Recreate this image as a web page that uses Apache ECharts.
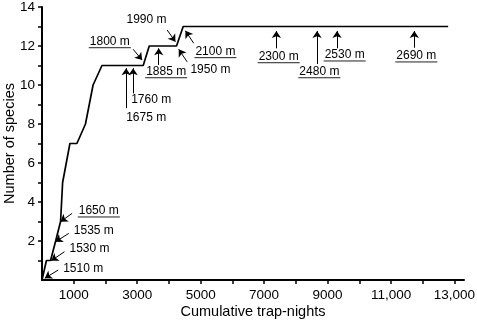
<!DOCTYPE html>
<html>
<head>
<meta charset="utf-8">
<script src="https://cdn.jsdelivr.net/npm/echarts@6/dist/echarts.min.js"></script>
<style>
html, body { margin: 0; padding: 0; background: #fff; }
#chart { width: 477px; height: 325px; }
</style>
</head>
<body>
<div id="chart"></div>
<script>
// species accumulation curve
var trapNights = [0, 140, 270, 430, 585, 650, 880, 1100, 1370, 1610, 1890, 3190, 3380, 4240, 4450, 12800];
var species = [0, 1, 1, 2, 3, 5, 7, 7, 8, 10, 11, 11, 12, 12, 13, 13];

// axis ticks / labels
var xTicks = [1000, 2000, 3000, 4000, 5000, 6000, 7000, 8000, 9000, 10000, 11000, 12000, 13000];
var xLabels = [1000, 3000, 5000, 7000, 9000, 11000, 13000];
var yTicks = [1, 2, 3, 4, 5, 6, 7, 8, 9, 10, 11, 12, 13, 14];
var yLabels = [2, 4, 6, 8, 10, 12, 14];

// elevation labels: text, x, y (left/middle of text), underlined
var siteLabels = [
    ['1510 m', 668, 0.56, false],
    ['1530 m', 866, 1.59, false],
    ['1535 m', 1002, 2.51, false],
    ['1650 m', 1159, 3.54, true],
    ['1800 m', 1506, 12.22, true],
    ['1990 m', 2662, 13.33, false],
    ['2100 m', 4835, 11.71, true],
    ['1950 m', 4678, 10.77, false],
    ['1885 m', 3282, 10.68, true],
    ['1760 m', 2810, 9.27, false],
    ['1675 m', 2652, 8.32, false],
    ['2300 m', 6829, 11.45, true],
    ['2480 m', 8111, 10.68, true],
    ['2530 m', 8908, 11.54, true],
    ['2690 m', 11167, 11.49, true]
];

// arrows: from x, from y, to x, to y
var arrows = [
    [510, 0.51, 88, 0.09],
    [709, 1.45, 290, 0.99],
    [844, 2.39, 425, 1.96],
    [951, 3.42, 583, 2.99],
    [2873, 11.83, 3156, 11.28],
    [3944, 12.82, 4205, 12.22],
    [4782, 12.14, 4520, 12.78],
    [4574, 11.19, 4309, 11.83],
    [3679, 11.03, 3679, 11.88],
    [2652, 8.81, 2652, 10.86],
    [2873, 9.57, 2873, 10.86],
    [7387, 11.88, 7387, 12.77],
    [8669, 11.08, 8669, 12.77],
    [9299, 11.88, 9299, 12.77],
    [11734, 11.91, 11734, 12.77]
];

var FONT = '"Liberation Sans", Arial, Helvetica, sans-serif';
var measureCtx = document.createElement('canvas').getContext('2d');
measureCtx.font = '12px ' + FONT;

var chart = echarts.init(document.getElementById('chart'));

chart.setOption({
    animation: false,
    textStyle: { fontFamily: FONT, color: '#000' },
    grid: { left: 42, right: 13, top: 7, bottom: 45, outerBoundsMode: 'none' },
    xAxis: {
        type: 'value',
        min: 0,
        max: 13300,
        name: 'Cumulative trap-nights',
        nameLocation: 'middle',
        nameGap: 24,
        nameMoveOverlap: false,
        nameTextStyle: { fontSize: 14.5, color: '#000' },
        axisLine: { lineStyle: { color: '#000', width: 2 } },
        axisTick: { customValues: xTicks, length: 4, lineStyle: { color: '#000', width: 1.5 } },
        axisLabel: {
            customValues: xLabels,
            margin: 8,
            fontSize: 13.5,
            color: '#000',
            formatter: function (v) {
                return v >= 10000 ? String(v).replace(/(\d+)(\d{3})$/, '$1,$2') : String(v);
            }
        },
        splitLine: { show: false }
    },
    yAxis: {
        type: 'value',
        min: 0,
        max: 14,
        name: 'Number of species',
        nameLocation: 'middle',
        nameGap: 25,
        nameMoveOverlap: false,
        nameTextStyle: { fontSize: 14.5, color: '#000' },
        axisLine: { show: true, lineStyle: { color: '#000', width: 2 } },
        axisTick: { show: true, customValues: yTicks, length: 4, lineStyle: { color: '#000', width: 1.5 } },
        axisLabel: { customValues: yLabels, margin: 7, fontSize: 13.5, color: '#000' },
        splitLine: { show: false }
    },
    series: [
        {
            type: 'line',
            data: trapNights.map(function (x, i) { return [x, species[i]]; }),
            symbol: 'none',
            lineStyle: { color: '#000', width: 1.7 },
            z: 3,
            markLine: {
                silent: true,
                symbol: ['none', 'arrow'],
                symbolSize: 7,
                label: { show: false },
                lineStyle: { color: '#000', width: 1, type: 'solid' },
                emphasis: { disabled: true },
                data: arrows.map(function (a) {
                    return [{ coord: [a[0], a[1]] }, { coord: [a[2], a[3]] }];
                })
            }
        },
        {
            type: 'custom',
            clip: false,
            silent: true,
            data: siteLabels.map(function (d) { return [d[1], d[2]]; }),
            renderItem: function (params, api) {
                var item = siteLabels[params.dataIndex];
                var p = api.coord([api.value(0), api.value(1)]);
                var children = [{
                    type: 'text',
                    x: p[0],
                    y: p[1],
                    style: {
                        text: item[0],
                        fontSize: 12,
                        fontFamily: FONT,
                        fill: '#000',
                        align: 'left',
                        verticalAlign: 'middle'
                    }
                }];
                if (item[3]) {
                    var w = measureCtx.measureText(item[0]).width;
                    children.push({
                        type: 'line',
                        shape: { x1: p[0] - 1, y1: p[1] + 6, x2: p[0] + w + 1, y2: p[1] + 6 },
                        style: { stroke: '#222', lineWidth: 1 }
                    });
                }
                return { type: 'group', children: children };
            }
        }
    ]
});

window.addEventListener('resize', function () {
    chart.resize();
});
</script>
</body>
</html>
